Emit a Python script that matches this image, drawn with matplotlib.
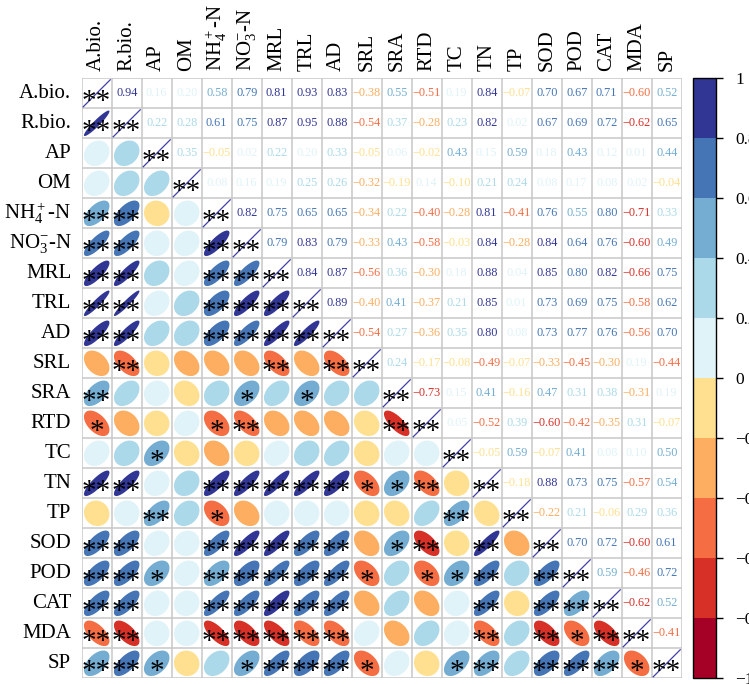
import numpy as np
import matplotlib
matplotlib.use("Agg")
import matplotlib.pyplot as plt
from matplotlib.colors import ListedColormap, BoundaryNorm
from matplotlib.cm import ScalarMappable
from matplotlib.patches import Polygon

plt.rcParams['font.family'] = ['Liberation Serif', 'DejaVu Serif']
plt.rcParams['mathtext.fontset'] = 'custom'
plt.rcParams['mathtext.rm'] = 'Liberation Serif'
plt.rcParams['mathtext.it'] = 'Liberation Serif'

labels = ['A.bio.', 'R.bio.', 'AP', 'OM', r'NH$_4^+$-N', r'NO$_3^{\mathrm{-}}$-N', 'MRL', 'TRL',
          'AD', 'SRL', 'SRA', 'RTD', 'TC', 'TN', 'TP', 'SOD', 'POD', 'CAT', 'MDA', 'SP']

# upper triangle, row i holds r(i, j) for j > i
upper = [
    [0.94, 0.16, 0.197, 0.58, 0.79, 0.81, 0.93, 0.83, -0.38, 0.55, -0.51, 0.19, 0.84, -0.07, 0.70, 0.67, 0.71, -0.598, 0.52],
    [0.22, 0.28, 0.61, 0.75, 0.87, 0.95, 0.88, -0.54, 0.37, -0.28, 0.23, 0.82, 0.02, 0.67, 0.69, 0.72, -0.62, 0.65],
    [0.35, -0.05, 0.02, 0.22, 0.198, 0.33, -0.05, 0.06, -0.02, 0.43, 0.15, 0.59, 0.18, 0.43, 0.12, 0.01, 0.44],
    [0.08, 0.16, 0.19, 0.25, 0.26, -0.32, -0.19, 0.14, -0.10, 0.21, 0.24, 0.08, 0.17, 0.08, 0.02, -0.04],
    [0.82, 0.75, 0.65, 0.65, -0.34, 0.22, -0.404, -0.28, 0.81, -0.41, 0.76, 0.55, 0.798, -0.71, 0.33],
    [0.79, 0.83, 0.79, -0.33, 0.43, -0.58, -0.03, 0.84, -0.28, 0.84, 0.64, 0.76, -0.602, 0.49],
    [0.84, 0.87, -0.56, 0.36, -0.30, 0.18, 0.88, 0.04, 0.85, 0.798, 0.82, -0.66, 0.75],
    [0.89, -0.398, 0.41, -0.37, 0.21, 0.85, 0.01, 0.73, 0.69, 0.75, -0.58, 0.62],
    [-0.54, 0.27, -0.36, 0.35, 0.802, 0.08, 0.73, 0.77, 0.76, -0.56, 0.70],
    [0.24, -0.17, -0.08, -0.49, -0.07, -0.33, -0.45, -0.30, 0.19, -0.44],
    [-0.73, 0.15, 0.41, -0.16, 0.47, 0.31, 0.38, -0.31, 0.19],
    [0.05, -0.52, 0.39, -0.602, -0.42, -0.35, 0.31, -0.07],
    [-0.05, 0.59, -0.07, 0.41, 0.08, 0.10, 0.50],
    [-0.18, 0.88, 0.73, 0.75, -0.57, 0.54],
    [-0.22, 0.21, -0.06, 0.29, 0.36],
    [0.70, 0.72, -0.602, 0.61],
    [0.59, -0.46, 0.72],
    [-0.62, 0.52],
    [-0.41],
]

# significance in the lower triangle, row i, cols 0..i-1 (2 = **, 1 = *)
sig = ["", "2", "00", "000", "2200", "22002", "220022", "2200222", "22002222",
       "020000202", "2000010100", "10001200002", "001000000000", "2200222221120",
       "00201000000020", "220022222012020", "2210222221011202",
       "22002222200002022", "220022222000020212", "2210012221001202221"]

n = len(labels)
R = np.eye(n)
for i, row in enumerate(upper):
    for k, v in enumerate(row):
        R[i, i + 1 + k] = v
        R[i + 1 + k, i] = v

colors = ['#a50026', '#d73027', '#f46d43', '#fdae61', '#fee090',
          '#e0f3f8', '#abd9e9', '#74add1', '#4575b4', '#313695']
cmap = ListedColormap(colors)
bounds = np.linspace(-1, 1, 11)
norm = BoundaryNorm(bounds, cmap.N)

fig = plt.figure(figsize=(7.49, 6.84), dpi=100)
ax = fig.add_axes([81.7 / 749, 1 - 678.3 / 684, 600 / 749, 600 / 684])
ax.set_xlim(0, n)
ax.set_ylim(n, 0)
ax.axis('off')

# grid
for k in range(n + 1):
    ax.plot([k, k], [0, n], color='#c8c8c8', lw=1.1, zorder=1, solid_capstyle='butt')
    ax.plot([0, n], [k, k], color='#c8c8c8', lw=1.1, zorder=1, solid_capstyle='butt')

t = np.linspace(0, 2 * np.pi, 100)


def stars(x, y, s):
    if s:
        ax.text(x, y + 0.52, s, ha='center', va='baseline', fontsize=21,
                color='black', zorder=5)


for i in range(n):
    for j in range(n):
        r = R[i, j]
        cx, cy = j + 0.5, i + 0.5
        c = cmap(norm(r))
        if j > i:
            txt = f"{r:.2f}".replace('-', '\u2212')
            ax.text(cx, cy, txt, ha='center', va='center', fontsize=8.8, color=c, zorder=4)
        elif j < i:
            a = np.arccos(r)
            ex = cx + 0.85 * np.cos(t + a / 2) / 2
            ey = cy - 0.85 * np.cos(t - a / 2) / 2
            ax.add_patch(Polygon(np.column_stack([ex, ey]), closed=True,
                                 facecolor=c, edgecolor='none', zorder=3))
            stars(cx, cy, '*' * int(sig[i][j]))
        else:
            ax.plot([j + 0.05, j + 0.95], [i + 0.95, i + 0.05], color='#3f3fa6', lw=0.9, zorder=4)
            stars(cx, cy, '**')

for k, lab in enumerate(labels):
    ax.text(-0.35, k + 0.5, lab, ha='right', va='center', fontsize=15)
    ax.text(k + 0.5, -0.25, lab, ha='center', va='bottom', rotation=90, fontsize=15)

# colour bar
cax = fig.add_axes([693 / 749, 1 - 678.3 / 684, 23 / 749, 600 / 684])
cb = fig.colorbar(ScalarMappable(norm=norm, cmap=cmap), cax=cax, ticks=bounds)
cb.set_ticklabels(['\u22121', '\u22120.8', '\u22120.6', '\u22120.4', '\u22120.2', '0',
                   '0.2', '0.4', '0.6', '0.8', '1'])
cb.ax.tick_params(labelsize=12.5, length=5, width=1, pad=9)
cb.outline.set_linewidth(1)

fig.savefig('out.png', dpi=100)
